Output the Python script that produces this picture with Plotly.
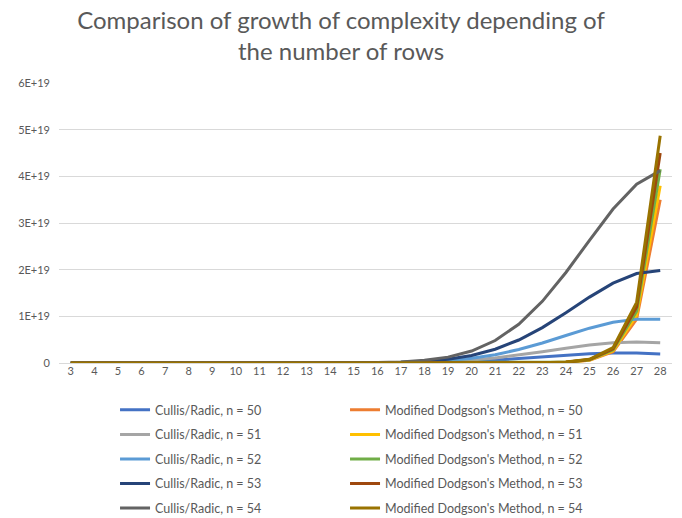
import plotly.graph_objects as go

rows = list(range(3, 29))

cullis_50 = [5.29e5, 1.47e7, 2.65e8, 3.43e9, 3.43e10, 2.75e11, 1.83e12, 1.03e13, 4.97e13, 2.10e14,
             7.80e14, 2.57e15, 7.60e15, 2.02e16, 4.84e16, 1.053e17, 2.086e17, 3.77e17, 6.24e17, 9.45e17,
             1.315e18, 1.680e18, 1.975e18, 2.136e18, 2.127e18, 1.948e18]
cullis_51 = [5.62e5, 1.60e7, 2.94e8, 3.89e9, 3.97e10, 3.26e11, 2.22e12, 1.28e13, 6.34e13, 2.74e14,
             1.046e15, 3.547e15, 1.076e16, 2.939e16, 7.257e16, 1.627e17, 3.324e17, 6.203e17, 1.060e18, 1.662e18,
             2.394e18, 3.174e18, 3.874e18, 4.358e18, 4.519e18, 4.320e18]
cullis_52 = [5.97e5, 1.73e7, 3.25e8, 4.40e9, 4.59e10, 3.85e11, 2.68e12, 1.58e13, 8.04e13, 3.566e14,
             1.395e15, 4.854e15, 1.512e16, 4.245e16, 1.078e17, 2.489e17, 5.237e17, 1.008e18, 1.778e18, 2.881e18,
             4.293e18, 5.894e18, 7.462e18, 8.716e18, 9.400e18, 9.360e18]
cullis_53 = [6.33e5, 1.87e7, 3.59e8, 4.96e9, 5.29e10, 4.54e11, 3.23e12, 1.95e13, 1.015e14, 4.610e14,
             1.849e15, 6.597e15, 2.110e16, 6.080e16, 1.587e17, 3.768e17, 8.164e17, 1.619e18, 2.945e18, 4.925e18,
             7.585e18, 1.0773e19, 1.4124e19, 1.7110e19, 1.9161e19, 1.9844e19]
cullis_54 = [6.70e5, 2.02e7, 3.95e8, 5.58e9, 6.07e10, 5.33e11, 3.877e12, 2.393e13, 1.274e14, 5.927e14,
             2.435e15, 8.905e15, 2.921e16, 8.641e16, 2.317e17, 5.653e17, 1.2596e18, 2.571e18, 4.819e18, 8.311e18,
             1.3212e19, 1.9391e19, 2.630e19, 3.2997e19, 3.8322e19, 4.1214e19]

dodgson_50 = [0.7, 7.0, 70, 6.9e2, 6.3e3, 5.4e4, 4.5e5, 3.5e6, 2.6e7, 1.9e8,
              1.3e9, 8.8e9, 5.5e10, 3.4e11, 2.0e12, 1.1e13, 5.8e13, 3.0e14, 1.5e15, 6.8e15,
              3.1e16, 1.4e17, 5.8e17, 2.4e18, 9.4e18, 3.50e19]
dodgson_51 = [0.8, 7.8, 78, 7.5e2, 6.8e3, 5.8e4, 4.8e5, 3.8e6, 2.9e7, 2.0e8,
              1.4e9, 9.5e9, 5.9e10, 3.6e11, 2.1e12, 1.2e13, 6.3e13, 3.2e14, 1.6e15, 7.4e15,
              3.4e16, 1.5e17, 6.3e17, 2.6e18, 1.02e19, 3.80e19]
dodgson_52 = [0.85, 8.5, 85, 8.1e2, 7.3e3, 6.3e4, 5.2e5, 4.1e6, 3.1e7, 2.2e8,
              1.5e9, 1.0e10, 6.4e10, 3.9e11, 2.3e12, 1.3e13, 6.8e13, 3.5e14, 1.7e15, 8.0e15,
              3.7e16, 1.6e17, 6.8e17, 2.8e18, 1.11e19, 4.15e19]
dodgson_53 = [0.9, 9.2, 92, 8.8e2, 7.9e3, 6.8e4, 5.6e5, 4.4e6, 3.3e7, 2.4e8,
              1.7e9, 1.1e10, 6.9e10, 4.2e11, 2.5e12, 1.4e13, 7.4e13, 3.8e14, 1.8e15, 8.7e15,
              4.0e16, 1.75e17, 7.4e17, 3.05e18, 1.20e19, 4.50e19]
dodgson_54 = [1.0, 10, 1.0e2, 9.5e2, 8.6e3, 7.4e4, 6.1e5, 4.8e6, 3.6e7, 2.6e8,
              1.8e9, 1.2e10, 7.5e10, 4.6e11, 2.7e12, 1.5e13, 8.0e13, 4.1e14, 2.0e15, 9.4e15,
              4.3e16, 1.9e17, 8.0e17, 3.3e18, 1.30e19, 4.87e19]

y_tick_vals = [0, 1e19, 2e19, 3e19, 4e19, 5e19, 6e19]
y_tick_text = ["0", "1E+19", "2E+19", "3E+19", "4E+19", "5E+19", "6E+19"]

series = [
    ("Cullis/Radic, n = 50", cullis_50, "#4472C4", "legend"),
    ("Modified Dodgson's Method, n = 50", dodgson_50, "#ED7D31", "legend2"),
    ("Cullis/Radic, n = 51", cullis_51, "#A5A5A5", "legend"),
    ("Modified Dodgson's Method, n = 51", dodgson_51, "#FFC000", "legend2"),
    ("Cullis/Radic, n = 52", cullis_52, "#5B9BD5", "legend"),
    ("Modified Dodgson's Method, n = 52", dodgson_52, "#70AD47", "legend2"),
    ("Cullis/Radic, n = 53", cullis_53, "#264478", "legend"),
    ("Modified Dodgson's Method, n = 53", dodgson_53, "#9E480E", "legend2"),
    ("Cullis/Radic, n = 54", cullis_54, "#636363", "legend"),
    ("Modified Dodgson's Method, n = 54", dodgson_54, "#997300", "legend2"),
]

fig = go.Figure()
for i, (name, vals, color, leg) in enumerate(series):
    fig.add_trace(go.Scatter(
        x=rows, y=vals, name=name, mode="lines",
        line=dict(color=color, width=3),
        legend=leg, legendgroup=f"g{i}",
    ))

text_color = "#595959"
legend_common = dict(
    orientation="v", xanchor="left", yanchor="top",
    font=dict(family="Lato", size=12.5, color=text_color),
    bgcolor="rgba(0,0,0,0)", tracegroupgap=5.3, itemwidth=30,
    traceorder="grouped",
)

fig.update_layout(
    width=682, height=518,
    margin=dict(l=59, r=10, t=83, b=155, autoexpand=False),
    paper_bgcolor="white", plot_bgcolor="white",
    font=dict(family="Lato", size=11, color=text_color),
    title=dict(
        text="Comparison of growth of complexity depending of<br>the number of rows",
        x=0.5, xref="container", xanchor="center",
        y=1 - 28.5 / 518, yref="container", yanchor="middle",
        font=dict(family="Lato", size=24, color=text_color),
    ),
    xaxis=dict(
        range=[2.5, 28.5], tickmode="array", tickvals=rows,
        ticktext=[str(r) for r in rows],
        showgrid=False, zeroline=False, showline=False, ticks="",
        tickfont=dict(family="Lato", size=11, color=text_color),
    ),
    yaxis=dict(
        range=[0, 6e19], tickmode="array", tickvals=y_tick_vals, ticktext=y_tick_text,
        showgrid=True, gridcolor="#D9D9D9", gridwidth=1,
        zeroline=True, zerolinecolor="#D9D9D9", zerolinewidth=1,
        showline=False, ticks="", ticklabelstandoff=8,
        tickfont=dict(family="Lato", size=11, color=text_color),
    ),
    legend=dict(x=0.0914, y=-0.115, **legend_common),
    legend2=dict(x=0.4666, y=-0.115, **legend_common),
    showlegend=True,
)

# remove the default page margin so the 682x518 figure fills the window exactly
fig.write_html(
    "out.html",
    config={"displayModeBar": False},
    post_script="document.body.style.margin='0px';",
)
